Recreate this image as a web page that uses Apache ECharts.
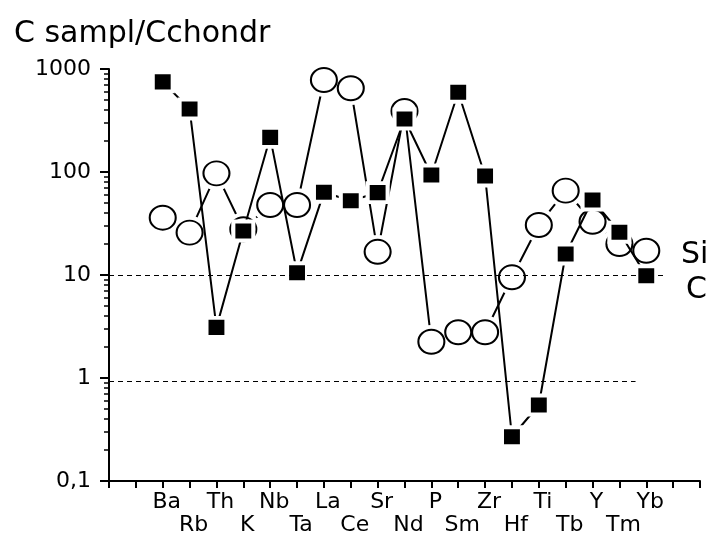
<!DOCTYPE html>
<html><head><meta charset="utf-8">
<script src="https://cdn.jsdelivr.net/npm/echarts@6/dist/echarts.min.js"></script>
<style>html,body{margin:0;padding:0;background:#fff}#c{width:709px;height:540px}</style>
</head><body><div id="c"></div>
<script>
// ---- data ----
const elements = ['Ba','Rb','Th','K','Nb','Ta','La','Ce','Sr','Nd','P','Sm','Zr','Hf','Ti','Tb','Y','Tm','Yb'];
const circleValues = [36, 25.8, 97, 27.8, 47.8, 47.8, 782, 650, 16.8, 391, 2.25, 2.78, 2.78, 9.5, 30.6, 65.9, 32.9, 20.0, 17.2];
const squareValues = [750, 409, 3.1, 26.7, 217, 10.5, 63.5, 52.6, 63, 327, 93.5, 594, 91.5, 0.269, 0.547, 16.0, 53.5, 26.0, 9.85];
const seriesNames = ['Si', 'C'];
const yMajorTicks = [0.1, 1, 10, 100, 1000];
const yMinorTicks = [0.2,0.3,0.4,0.5,0.6,0.7,0.8,0.9, 2,3,4,5,6,7,8,9, 20,30,40,50,60,70,80,90, 200,300,400,500,600,700,800,900];
const refLevels = [10, 0.93];
const refEnds = [20.7, 19.6];
const titleText = 'C sampl/Cchondr';

// ---- chart ----
const FONT = 'DejaVu Sans';
const xOffset = 2; // first element sits on the 2nd tick
const circleData = circleValues.map((v, i) => [i + xOffset, v]);
const squareData = squareValues.map((v, i) => [i + xOffset, v]);

const chart = echarts.init(document.getElementById('c'), null, {renderer: 'canvas'});
chart.setOption({
  animation: false,
  backgroundColor: '#fff',
  title: {
    text: titleText, left: 9, top: 14,
    textStyle: {fontFamily: FONT, fontSize: 30, fontWeight: 'normal', color: '#000'}
  },
  legend: {
    orient: 'vertical', left: 671, top: 234, icon: 'none', itemWidth: 0, itemHeight: 10, itemGap: 3,
    selectedMode: false,
    textStyle: {fontFamily: FONT, fontSize: 30, color: '#000', lineHeight: 32},
    data: [{name: seriesNames[0]}, {name: seriesNames[1], textStyle: {padding: [0, 0, 0, 5]}}]
  },
  grid: {left: 109, right: 9, top: 69, bottom: 59, containLabel: false},
  xAxis: {
    type: 'value', min: 0, max: 22, interval: 1,
    axisLine: {show: true, lineStyle: {color: '#000', width: 2}},
    axisTick: {show: true, length: 7, lineStyle: {color: '#000', width: 2}},
    splitLine: {show: false},
    axisLabel: {
      margin: 10, fontFamily: FONT, fontSize: 22, color: '#000', lineHeight: 23,
      padding: [0, 0, 0, 8],
      formatter: v => {
        const i = Math.round(v) - xOffset;
        if (i < 0 || i >= elements.length) return '';
        return i % 2 === 0 ? elements[i] : '\n' + elements[i];
      }
    }
  },
  yAxis: [{
    type: 'log', logBase: 10, min: yMajorTicks[0], max: yMajorTicks[yMajorTicks.length - 1],
    axisLine: {show: true, lineStyle: {color: '#000', width: 2}},
    axisTick: {show: true, length: 9, lineStyle: {color: '#000', width: 2}},
    splitLine: {show: false},
    axisLabel: {
      margin: 18, fontFamily: FONT, fontSize: 22, color: '#000',
      formatter: v => String(v).replace('.', ',')
    }
  }, {
    type: 'log', logBase: 10, min: yMajorTicks[0], max: yMajorTicks[yMajorTicks.length - 1],
    position: 'left',
    axisLine: {show: false},
    axisLabel: {show: false},
    splitLine: {show: false},
    axisTick: {show: true, length: 5, customValues: yMinorTicks, lineStyle: {color: '#000', width: 1.5}}
  }],
  series: [{
    name: seriesNames[0], type: 'line', data: circleData, z: 2,
    symbol: 'circle', symbolSize: [26, 24],
    lineStyle: {color: '#000', width: 2},
    itemStyle: {color: '#fff', borderColor: '#fff', borderWidth: 10},
    emphasis: {disabled: true},
    markLine: {
      silent: true, symbol: 'none', label: {show: false},
      lineStyle: {color: '#000', width: 1.2, type: [5, 4]},
      data: refLevels.map((lv, k) => [{coord: [0, lv]}, {coord: [refEnds[k], lv]}])
    }
  }, {
    name: seriesNames[0], type: 'scatter', data: circleData, z: 3,
    symbol: 'circle', symbolSize: [26, 24],
    itemStyle: {color: '#fff', borderColor: '#000', borderWidth: 2, opacity: 1},
    emphasis: {disabled: true}
  }, {
    name: seriesNames[1], type: 'line', data: squareData, z: 4,
    symbol: 'rect', symbolSize: [20, 19],
    lineStyle: {color: '#000', width: 2},
    itemStyle: {color: '#000', borderColor: '#fff', borderWidth: 4},
    emphasis: {disabled: true}
  }]
});
</script>
</body></html>
